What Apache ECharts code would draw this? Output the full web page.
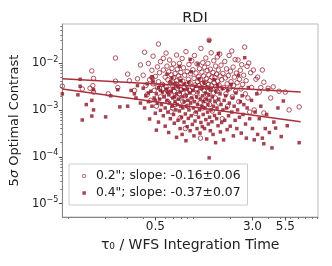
<!DOCTYPE html>
<html><head><meta charset="utf-8">
<script src="https://cdn.jsdelivr.net/npm/echarts@6/dist/echarts.min.js"></script>
<style>html,body{margin:0;padding:0;background:#fff}#c{width:332px;height:266px}</style>
</head><body><div id="c"></div>
<script>
// ---- data ----
const titleText = 'RDI';
const seriesNames = ['0.2"; slope: -0.16±0.06', '0.4"; slope: -0.37±0.07'];
const xTickLabels = [0.5, 3.0, 5.5];
const xMinorTicks = [0.1,0.2,0.3,0.4,0.6,0.7,0.8,0.9,1,2,4,5,6,7,8,9,10];
const yMinorTicks = [2e-5,3e-5,4e-5,5e-5,6e-5,7e-5,8e-5,9e-5,2e-4,3e-4,4e-4,5e-4,6e-4,7e-4,8e-4,9e-4,2e-3,3e-3,4e-3,5e-3,6e-3,7e-3,8e-3,9e-3,2e-2,3e-2,4e-2,5e-2,6e-2];

const open02 = [
[0.09,3.2e-3],[0.13,2.8e-3],[0.155,6.8e-3],[0.16,4.7e-3],[0.158,3.3e-3],[0.16,2.4e-3],[0.15,2.9e-3],[0.21,2.2e-3],[0.24,1.28e-2],[0.24,4.1e-3],[0.25,3.0e-3],[0.30,5.8e-3],[0.31,4.2e-3],[0.34,2.6e-3],[0.36,4.6e-3],[0.38,9.1e-3],
[0.40,5.5e-3],[0.41,0.017],[0.42,3.3e-3],[0.43,2.1e-3],[0.44,9.8e-3],[0.45,4.4e-3],[0.46,1.6e-3],[0.47,7.0e-3],[0.48,0.014],[0.48,3.6e-3],[0.49,2.6e-3],[0.50,5.2e-3],[0.51,1.2e-3],[0.52,8.3e-3],[0.53,0.0254],[0.53,4.0e-3],[0.54,2.9e-3],[0.54,6.2e-3],[0.55,1.9e-3],[0.55,0.0107],[0.52,3.1e-3],[0.47,4.9e-3],
[0.57,3.5e-3],[0.58,7.1e-3],[0.58,0.0126],[0.59,2.3e-3],[0.60,5.0e-3],[0.61,0.0163],[0.61,3.1e-3],[0.62,8.6e-3],[0.63,1.5e-3],[0.63,4.4e-3],[0.64,6.5e-3],[0.65,2.7e-3],[0.65,0.0116],[0.66,3.8e-3],[0.67,5.6e-3],[0.67,9.1e-4],[0.68,2.0e-3],[0.68,7.7e-3],[0.69,3.3e-3],[0.70,4.8e-3],[0.70,0.0096],[0.71,2.5e-3],[0.72,6.0e-3],[0.72,1.3e-3],[0.73,3.6e-3],[0.74,0.0148],[0.74,4.2e-3],[0.75,2.9e-3],[0.75,7.4e-3],[0.76,1.8e-3],[0.77,5.3e-3],[0.77,3.2e-3],[0.78,0.0098],[0.78,2.2e-3],[0.79,4.6e-3],[0.79,6.8e-4],[0.80,6.3e-3],[0.80,3.7e-3],[0.62,2.6e-3],[0.69,1.1e-3],
[0.81,2.7e-3],[0.82,0.0125],[0.83,4.1e-3],[0.83,1.5e-3],[0.84,7.9e-3],[0.85,3.0e-3],[0.86,5.5e-3],[0.87,4.0e-4],[0.87,2.0e-3],[0.88,0.0175],[0.89,3.5e-3],[0.90,6.6e-3],[0.91,1.2e-3],[0.92,4.5e-3],[0.93,9.3e-3],[0.94,2.6e-3],[0.95,3.8e-3],[0.96,5.9e-3],[0.97,1.7e-3],[0.98,0.0112],[0.99,3.1e-3],[1.00,7.2e-3],[1.01,2.3e-3],[1.02,4.7e-3],[1.03,0.0145],[1.04,3.4e-3],[1.05,8.4e-4],[1.06,6.1e-3],[1.07,2.8e-3],[1.08,9.6e-3],[1.09,4.0e-3],[1.10,1.9e-3],[1.11,5.1e-3],[1.12,3.3e-3],[1.13,7.6e-3],[1.14,1.4e-3],[1.15,2.5e-4],[1.15,4.4e-3],[1.16,0.0205],[1.17,2.9e-3],[1.18,6.4e-3],[1.19,3.7e-3],[1.20,1.1e-3],[1.20,0.0102],[0.90,2.4e-3],
[1.22,5.3e-3],[1.23,2.6e-3],[1.24,8.1e-3],[1.25,3.9e-3],[1.26,1.6e-3],[1.27,0.0128],[1.28,4.6e-3],[1.29,3.0e-3],[1.30,6.9e-3],[1.31,2.1e-3],[1.32,0.0098],[1.33,3.5e-3],[1.34,5.6e-3],[1.35,0.0308],[1.36,1.3e-3],[1.37,4.2e-3],[1.38,7.4e-3],[1.39,2.7e-3],[1.40,0.0165],[1.41,3.3e-3],[1.42,5.0e-3],[1.43,9.5e-4],[1.45,6.3e-3],[1.46,2.3e-3],[1.47,0.0112],[1.48,3.8e-3],[1.50,4.9e-3],[1.51,1.8e-3],[1.52,8.6e-3],[1.53,3.1e-3],[1.55,5.8e-3],[1.56,2.5e-3],[1.57,0.0135],[1.58,4.1e-3],[1.60,7.1e-3],[1.61,1.4e-3],[1.62,3.4e-3],[1.64,0.0155],[1.65,5.3e-3],[1.67,2.8e-3],[1.68,9.0e-3],[1.70,4.4e-3],[1.72,6.5e-4],[1.74,6.0e-3],[1.76,3.0e-3],
[1.80,0.0108],[1.82,4.8e-3],[1.84,2.2e-3],[1.86,7.5e-3],[1.88,3.6e-3],[1.90,1.2e-3],[1.92,5.4e-3],[1.95,0.0145],[1.97,2.9e-3],[2.00,6.7e-3],[2.02,4.0e-3],[2.05,0.018],[2.07,1.9e-3],[2.10,8.2e-3],[2.12,3.3e-3],[2.15,5.0e-3],[2.18,0.0118],[2.20,2.5e-3],[2.23,6.1e-3],[2.26,3.8e-3],[2.30,0.0116],[2.33,1.5e-3],[2.36,4.5e-3],[2.40,7.0e-3],[2.43,2.8e-3],[2.46,9.2e-3],[2.50,3.5e-3],[2.55,5.5e-3],[2.60,0.0219],[2.63,2.2e-3],[2.67,4.2e-3],[2.72,8.5e-3],[2.76,1.8e-3],[2.80,0.0100],[2.85,9.0e-4],
[2.95,3.0e-3],[3.05,7.1e-3],[3.1,1.0e-3],[3.2,4.5e-3],[3.3,5.0e-3],[3.4,2.4e-3],[3.5,3.0e-3],[3.6,7.1e-3],[3.7,3.9e-3],[3.7,8.6e-4],[4.0,2.9e-3],[4.2,1.8e-3],[4.4,3.1e-3],[4.9,2.5e-3],[5.5,2.4e-3],[5.9,1.0e-3],[7.1,1.16e-3],[2.9,6.2e-3]
];

const filled04 = [
[0.09,2.2e-3],[0.125,4.5e-3],[0.125,3.2e-3],[0.12,2.1e-3],[0.13,6.1e-4],[0.14,1.3e-3],[0.155,1.6e-3],[0.16,1.0e-3],[0.155,7.4e-4],[0.16,2.7e-3],[0.20,7.1e-4],[0.22,2.0e-3],[0.26,1.16e-3],[0.25,2.7e-3],[0.30,1.2e-3],[0.32,2.6e-3],[0.35,1.8e-3],[0.36,3.3e-3],[0.38,1.4e-3],[0.34,2.2e-3],
[0.40,2.9e-3],[0.41,1.1e-3],[0.42,2.0e-3],[0.43,3.6e-3],[0.44,1.5e-3],[0.45,6.4e-4],[0.46,2.5e-3],[0.47,1.2e-3],[0.48,4.1e-3],[0.49,1.8e-3],[0.50,8.5e-4],[0.51,3.7e-4],[0.51,2.2e-3],[0.52,1.4e-3],[0.53,3.0e-3],[0.53,5.5e-4],[0.54,1.7e-3],[0.55,2.6e-3],[0.55,9.8e-4],[0.44,2.3e-3],[0.47,5.0e-3],[0.50,1.6e-3],
[0.56,1.3e-3],[0.57,2.4e-3],[0.58,7.5e-4],[0.58,3.4e-3],[0.59,1.9e-3],[0.60,4.5e-4],[0.60,1.1e-3],[0.61,2.8e-3],[0.62,1.6e-3],[0.62,5.8e-3],[0.63,9.0e-4],[0.64,2.1e-3],[0.64,3.3e-4],[0.65,1.4e-3],[0.66,3.9e-3],[0.66,6.5e-4],[0.67,2.5e-3],[0.68,1.2e-3],[0.68,4.8e-3],[0.69,1.8e-3],[0.70,8.0e-4],[0.70,2.9e-3],[0.71,5.2e-4],[0.72,1.5e-3],[0.72,3.6e-3],[0.73,1.0e-3],[0.74,2.2e-3],[0.74,2.6e-4],[0.75,1.3e-3],[0.76,6.0e-4],[0.76,3.1e-3],[0.77,1.7e-3],[0.78,8.5e-3],[0.78,9.5e-4],[0.79,2.4e-3],[0.79,4.0e-4],[0.80,1.2e-3],[0.80,4.2e-3],[0.63,2.4e-3],[0.71,1.9e-3],
[0.81,7.0e-4],[0.82,1.9e-3],[0.82,3.0e-4],[0.83,1.1e-3],[0.84,2.7e-3],[0.85,5.5e-4],[0.85,1.5e-3],[0.86,3.5e-3],[0.87,8.2e-4],[0.88,2.0e-3],[0.88,2.2e-4],[0.89,1.2e-3],[0.90,4.4e-4],[0.90,2.8e-3],[0.91,1.6e-3],[0.92,6.6e-4],[0.93,3.9e-3],[0.93,1.0e-3],[0.94,2.3e-3],[0.95,3.6e-4],[0.96,1.4e-3],[0.97,7.5e-4],[0.97,6.5e-3],[0.98,1.8e-3],[0.99,4.9e-4],[1.00,2.6e-3],[1.01,1.1e-3],[1.02,2.8e-4],[1.03,1.5e-3],[1.04,5.8e-4],[1.05,3.2e-3],[1.06,9.0e-4],[1.07,1.9e-3],[1.08,4.0e-4],[1.09,1.3e-3],[1.10,2.4e-3],[1.11,7.0e-4],[1.12,4.6e-3],[1.13,1.0e-3],[1.14,3.2e-4],[1.15,1.7e-3],[1.16,5.4e-4],[1.17,2.9e-3],[1.18,1.2e-3],[1.19,4.4e-4],[1.20,2.0e-3],[0.95,1.2e-2],[1.10,9.5e-3],
[1.21,8.0e-4],[1.22,1.5e-3],[1.23,3.8e-3],[1.24,4.0e-4],[1.25,1.1e-3],[1.26,2.3e-3],[1.27,6.2e-4],[1.28,1.7e-3],[1.29,2.4e-4],[1.30,3.0e-3],[1.31,9.0e-4],[1.32,1.3e-3],[1.33,5.0e-4],[1.34,2.1e-3],[1.35,0.030],[1.35,9.5e-5],[1.36,7.0e-4],[1.37,1.6e-3],[1.38,3.6e-4],[1.39,2.7e-3],[1.40,1.0e-3],[1.42,5.6e-4],[1.43,1.9e-3],[1.45,3.0e-4],[1.46,1.2e-3],[1.48,4.4e-3],[1.49,7.6e-4],[1.50,1.5e-3],[1.52,2.0e-4],[1.53,2.5e-3],[1.55,6.5e-4],[1.56,1.1e-3],[1.58,3.4e-3],[1.59,4.6e-4],[1.60,0.016],[1.61,1.7e-3],[1.63,8.5e-4],[1.65,2.2e-3],[1.66,3.4e-4],[1.68,1.3e-3],[1.70,5.4e-4],[1.72,2.9e-3],[1.74,1.0e-3],[1.76,2.3e-4],[1.78,1.6e-3],
[1.80,6.0e-4],[1.83,2.0e-3],[1.86,1.1e-3],[1.88,3.8e-4],[1.90,2.6e-3],[1.93,7.5e-4],[1.96,1.4e-3],[1.99,4.5e-4],[2.02,3.5e-3],[2.05,9.0e-4],[2.08,1.8e-3],[2.11,2.8e-4],[2.14,1.2e-3],[2.18,6.0e-4],[2.21,2.3e-3],[2.25,4.0e-4],[2.28,1.0e-3],[2.32,5.5e-3],[2.36,7.0e-4],[2.40,1.5e-3],[2.44,3.2e-4],[2.48,2.0e-3],[2.52,8.0e-4],[2.56,1.3e-3],[2.60,0.013],[2.64,5.0e-4],[2.68,2.5e-4],[2.72,1.1e-3],[2.78,3.0e-3],[2.85,6.5e-4],
[2.95,1.6e-3],[3.0,4.0e-4],[3.1,2.3e-4],[3.15,9.0e-4],[3.25,2.2e-3],[3.3,3.0e-4],[3.4,6.5e-4],[3.5,1.2e-3],[3.6,2.5e-4],[3.7,1.9e-4],[3.8,4.0e-4],[3.9,8.0e-4],[4.0,2.7e-3],[4.1,3.3e-4],[4.3,1.55e-4],[4.45,5.5e-4],[4.6,4.1e-4],[4.8,1.1e-3],[5.1,2.7e-4],[5.3,1.55e-3],[5.7,4.6e-4],[7.1,2.0e-4]
];

const fit02 = [[0.09, 4.6e-3], [7.3, 2.4e-3]];
const fit04 = [[0.09, 2.8e-3], [7.3, 5.6e-4]];

// ---- chart ----
function expLabel(v){ const e = Math.round(Math.log10(v)); return '{b|10}{s|' + (e < 0 ? '−' : '') + Math.abs(e) + '}'; }

const FONT = 'DejaVu Sans';
const RED = '#8e1424';
const LINE = '#a8303c';
const xMin = 0.09, xMax = 10.05, yMin = 5.2e-6, yMax = 0.068;

const chart = echarts.init(document.getElementById('c'), null, {renderer:'canvas'});
chart.setOption({
  animation: false,
  backgroundColor: '#fff',
  title: { text: titleText, left: 190, top: 6, textAlign: 'center',
    textStyle: { fontFamily: FONT, fontSize: 14.5, fontWeight: 'normal', color: '#222' } },
  grid: { left: 62, right: 14, top: 24, bottom: 49, show: true, borderColor: '#bbb', borderWidth: 1 },
  legend: {
    data: [
      { name: seriesNames[0], icon: 'circle', itemStyle: { color: '#fff', borderColor: RED, borderWidth: 0.8 } },
      { name: seriesNames[1], icon: 'rect', itemStyle: { color: RED, borderWidth: 0 } }
    ],
    orient: 'vertical', left: 69, top: 164,
    padding: [6, 7, 6, 13], itemGap: 5, itemWidth: 3.5, itemHeight: 3.5,
    borderColor: '#ccc', borderWidth: 1, backgroundColor: '#fff',
    textStyle: { fontFamily: FONT, fontSize: 12.4, color: '#222', padding: [0,0,0,5] }
  },
  xAxis: [
    { type: 'log', min: xMin, max: xMax, logBase: 10,
      name: 'τ₀ / WFS Integration Time', nameLocation: 'middle', nameGap: 21,
      nameTextStyle: { fontFamily: FONT, fontSize: 14, color: '#222' },
      axisLine: { show: true, lineStyle: { color: '#888' } },
      axisTick: { show: true, customValues: xTickLabels, length: 3.5, lineStyle: { color: '#555' } },
      axisLabel: { customValues: xTickLabels, formatter: v => Number(v).toFixed(1), fontFamily: FONT, fontSize: 12, color: '#222', margin: 4 },
      splitLine: { show: false } },
    { type: 'log', min: xMin, max: xMax, logBase: 10, position: 'bottom',
      axisLine: { show: false },
      axisTick: { show: true, customValues: xMinorTicks, length: 2, lineStyle: { color: '#777' } },
      axisLabel: { show: false }, splitLine: { show: false } }
  ],
  yAxis: [
    { type: 'log', min: yMin, max: yMax, logBase: 10,
      name: '5{i|σ} Optimal Contrast', nameLocation: 'middle', nameGap: 34,
      nameTextStyle: { fontFamily: FONT, fontSize: 13, color: '#222', rich: { i: { fontFamily: FONT, fontSize: 13, fontStyle: 'italic', color:'#222' } } },
      axisLine: { show: true, lineStyle: { color: '#888' } },
      axisTick: { show: true, length: 3.5, lineStyle: { color: '#555' } },
      axisLabel: { showMinLabel: false, showMaxLabel: false, formatter: v => expLabel(v), color: '#222', margin: 4,
        rich: { b: { fontFamily: FONT, fontSize: 11.5, color: '#222' },
                s: { fontFamily: FONT, fontSize: 8, color: '#222', padding: [0,0,7,0] } } },
      splitLine: { show: false } },
    { type: 'log', min: yMin, max: yMax, logBase: 10, position: 'left',
      axisLine: { show: false },
      axisTick: { show: true, customValues: yMinorTicks, length: 2, lineStyle: { color: '#777' } },
      axisLabel: { show: false }, splitLine: { show: false } }
  ],
  series: [
    { name: seriesNames[0], type: 'scatter', data: open02, symbol: 'circle', symbolSize: 4.5,
      itemStyle: { color: 'rgba(0,0,0,0)', borderColor: RED, borderWidth: 0.9 } },
    { name: seriesNames[1], type: 'scatter', data: filled04, symbol: 'rect', symbolSize: 3.5,
      itemStyle: { color: RED } },
    { name: 'fit02', type: 'line', data: fit02, symbol: 'none', lineStyle: { color: LINE, width: 1.5 }, z: 3 },
    { name: 'fit04', type: 'line', data: fit04, symbol: 'none', lineStyle: { color: LINE, width: 1.5 }, z: 3 }
  ]
});
</script>
</body></html>
